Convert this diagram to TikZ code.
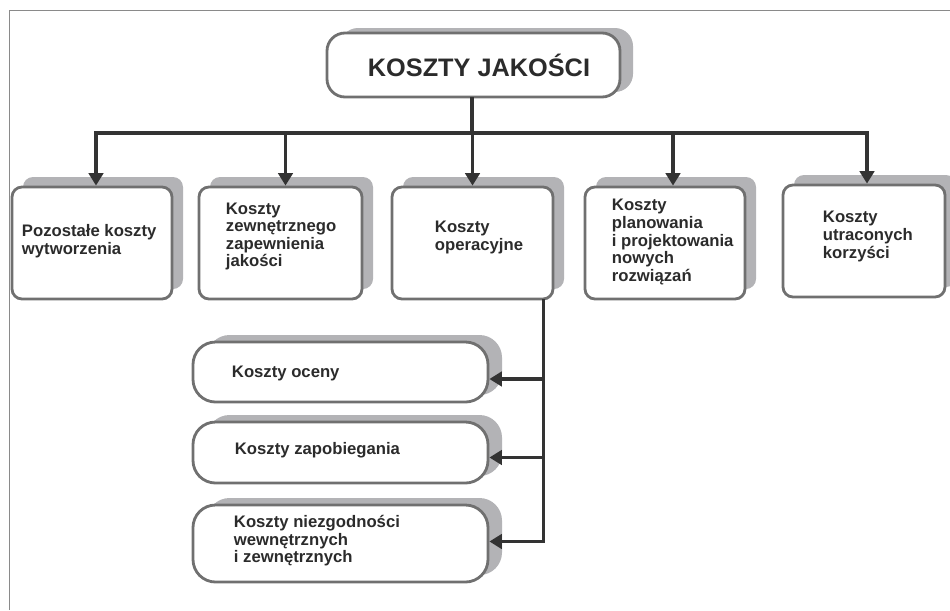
\documentclass[tikz,border=0pt]{standalone}
\usepackage{fontspec}
\setmainfont{Liberation Sans}
\usetikzlibrary{positioning,arrows.meta,calc,shadows}

\definecolor{boxgray}{HTML}{707070}
\definecolor{shadegray}{HTML}{B3B3B6}
\definecolor{linegray}{HTML}{333333}
\definecolor{framegray}{HTML}{8A8A8A}
\definecolor{txtgray}{HTML}{2B2B2B}

\begin{document}
\begin{tikzpicture}[x=0.02cm, y=-0.02cm,
  shade/.style 2 args={drop shadow={shadow xshift=#1, shadow yshift=#2, fill=shadegray, draw=none, opacity=1}},
  box/.style 2 args={draw=boxgray, line width=1.6pt, fill=white, inner sep=0pt,
    minimum width=#1*0.02cm, minimum height=#2*0.02cm},
  headbox/.style={rounded corners=0.36cm, shade={0.26cm}{0.1cm}},
  costbox/.style={rounded corners=0.2cm, shade={0.22cm}{0.2cm}},
  subbox/.style={rounded corners=0.45cm, shade={0.28cm}{0.14cm}},
  lbl/.style={font=\fontsize{9.5}{10}\selectfont\bfseries, text=txtgray, align=left, inner sep=0pt},
  conn/.style={draw=linegray, line width=1.75pt, line cap=rect},
  arr/.style={draw=linegray, line width=1.75pt, -{Triangle[length=0.25cm, width=0.29cm]}}]
\useasboundingbox (0,0) rectangle (950,610);
% frame (top and left edges only)
\draw[framegray, line width=1.1pt] (9.5,610) -- (9.5,10.5) -- (950,10.5);

% head
\node[box={293}{64}, headbox, font=\fontsize{14.4}{17}\selectfont\bfseries, text=txtgray] (title) at (473.5,65) {\hspace*{0.22cm}KOSZTY JAKOŚCI};

% first level
\node[box={160}{112}, costbox] (b1) at (92,243) {};
\node[box={163}{112}, costbox] (b2) at (280.5,243) {};
\node[box={161}{112}, costbox] (b3) at (472.5,243) {};
\node[box={160}{112}, costbox] (b4) at (665,243) {};
\node[box={162}{112}, costbox] (b5) at (864,241) {};

\node[lbl, anchor=west] (t1) at ($(b1.west)+(11,-2)$) {Pozostałe koszty\\wytworzenia};
\node[lbl, anchor=west] (t2) at ($(b2.west)+(28,-6.5)$) {Koszty\\zewnętrznego\\zapewnienia\\jakości};
\node[lbl, anchor=west] (t3) at ($(b3.west)+(44,-5.5)$) {Koszty\\operacyjne};
\node[lbl, anchor=west] (t4) at ($(b4.west)+(28,-1)$) {Koszty\\planowania\\i projektowania\\nowych\\rozwiązań};
\node[lbl, anchor=west] (t5) at ($(b5.west)+(41,-4.5)$) {Koszty\\utraconych\\korzyści};

% operating costs split
\node[box={295}{60}, subbox] (c1) at (340.5,372) {};
\node[box={295}{61}, subbox] (c2) at (340.5,452.5) {};
\node[box={295}{77}, subbox] (c3) at (340.5,543.5) {};

\node[lbl, anchor=west] (s1) at ($(c1.west)+(40,1)$) {Koszty oceny};
\node[lbl, anchor=west] (s2) at ($(c2.west)+(43,-2.5)$) {Koszty zapobiegania};
\node[lbl, anchor=west] (s3) at ($(c3.west)+(42,-2.5)$) {Koszty niezgodności\\wewnętrznych\\i zewnętrznych};

% connectors
\coordinate (bar) at (472,133);
\draw[conn] (title.south -| bar) -- (bar);
\foreach \n/\d in {1/4,2/5,3/0,4/8,5/3}{
  \coordinate (a\n) at ($(b\n.north)+(\d,0)$);
  \draw[arr] (a\n |- bar) -- (a\n);
}
\draw[conn] (a1 |- bar) -- (a5 |- bar);

\coordinate (sp) at ($(b3.south east)+(-11,0)$);
\foreach \n/\d in {1/7,2/5,3/-2}{
  \coordinate (e\n) at ($(c\n.east)+(0,\d)$);
  \draw[arr] (sp |- e\n) -- (e\n);
}
\draw[conn] (sp) -- (sp |- e3);
\end{tikzpicture}
\end{document}
